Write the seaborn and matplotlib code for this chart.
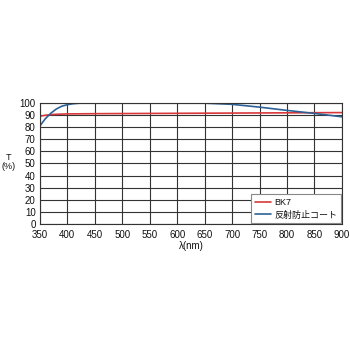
import matplotlib
matplotlib.use("Agg")
import matplotlib.pyplot as plt
import seaborn as sns
import pandas as pd

wl_bk7 = [350, 360, 370, 380, 400, 450, 500, 550, 600, 650, 700, 750, 800, 850, 900]
t_bk7 = [89.0, 89.8, 90.3, 90.6, 90.9, 91.1, 91.2, 91.3, 91.4, 91.5, 91.6, 91.7, 91.8, 91.9, 92.0]
wl_ar = [350, 360, 370, 380, 390, 400, 410, 420, 440, 450, 500, 550, 600, 650, 700, 750, 800, 850, 900]
t_ar = [81.0, 87.0, 91.5, 95.0, 97.3, 98.5, 99.3, 99.7, 100.0, 100.0, 100.0, 100.0, 100.0, 99.8, 98.8, 96.5, 93.8, 91.3, 88.5]
labels = ["BK7", "反射防止コート"]
colors = ["#d9373a", "#2c6196"]

df = pd.concat([
    pd.DataFrame({"wl": wl_bk7, "T": t_bk7, "s": labels[0]}),
    pd.DataFrame({"wl": wl_ar, "T": t_ar, "s": labels[1]}),
])

sns.set_style("white")
plt.rcParams['font.family'] = ['Liberation Sans', 'Noto Sans CJK JP', 'DejaVu Sans']

fig = plt.figure(figsize=(3.5, 3.5), dpi=100)
ax = fig.add_axes([0.114, 0.36, 0.863, 0.346])
sns.lineplot(data=df, x="wl", y="T", hue="s", palette=colors, ax=ax, linewidth=1.2, legend=True)

ax.set_xlim(350, 900)
ax.set_ylim(0, 100)
ax.set_xticks(range(350, 901, 50))
ax.set_yticks(range(0, 101, 10))
ax.grid(True, color="#333333", linewidth=0.8)
ax.set_axisbelow(True)
for s in ax.spines.values():
    s.set_color("#333333")
    s.set_linewidth(0.8)
ax.tick_params(axis="y", labelsize=7, length=0, pad=3, colors="#111111")
ax.tick_params(axis="x", labelsize=7, length=0, pad=4, colors="#111111")
ax.set_xlabel("λ(nm)", fontsize=7, labelpad=1, color="#111111")
ax.set_ylabel("")
fig.text(0.025, 0.537, "T\n(%)", fontsize=6.5, ha="center", va="center", linespacing=0.95, color="#111111")

leg = ax.legend(loc="lower right", fontsize=6.5, frameon=True, fancybox=False,
                edgecolor="#888888", framealpha=1, borderaxespad=0.1,
                handlelength=1.8, handletextpad=0.4, borderpad=0.4, labelspacing=0.4)
leg.get_frame().set_linewidth(0.8)
for t in leg.get_texts():
    t.set_color("#111111")

fig.savefig("out.png", dpi=100, facecolor="white")
